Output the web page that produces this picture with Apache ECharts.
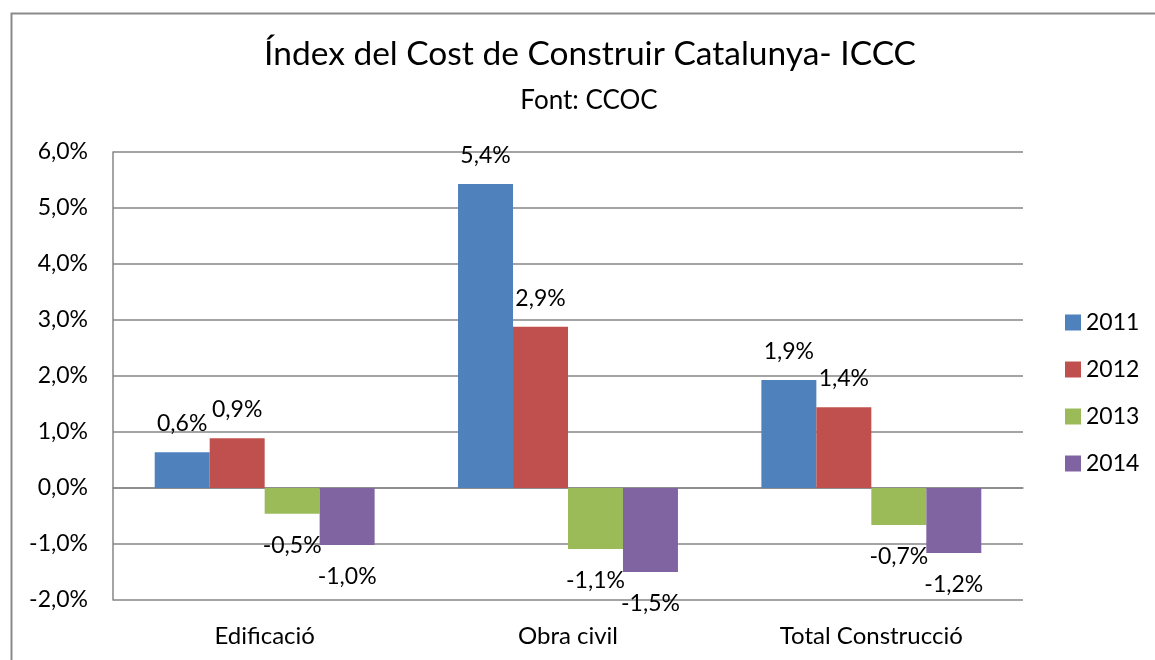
<!DOCTYPE html>
<html>
<head>
<meta charset="utf-8">
<script src="https://cdn.jsdelivr.net/npm/echarts@6/dist/echarts.min.js"></script>
<style>
html,body{margin:0;padding:0;background:#fff;}
#chart{width:1155px;height:660px;}
</style>
</head>
<body>
<div id="chart"></div>
<script>
var titleText = 'Índex del Cost de Construir Catalunya- ICCC';
var subtitleText = 'Font: CCOC';
var categories = ['Edificació', 'Obra civil', 'Total Construcció'];
var seriesNames = ['2011', '2012', '2013', '2014'];
var values2011 = [0.64, 5.43, 1.93];
var values2012 = [0.89, 2.88, 1.44];
var values2013 = [-0.46, -1.09, -0.66];
var values2014 = [-1.02, -1.50, -1.16];
var colors = ['#4F81BD', '#C0504D', '#9BBB59', '#8064A2'];
var yMin = -2, yMax = 6, yInterval = 1;

var FONT = 'Lato';
function fmt(v){ return v.toFixed(1).replace('.', ',') + '%'; }

var allValues = [values2011, values2012, values2013, values2014];
var series = allValues.map(function(vals, i){
  return {
    name: seriesNames[i],
    type: 'bar',
    xAxisIndex: 0,
    barGap: '0%',
    barCategoryGap: '27.5%',
    itemStyle: { color: colors[i] },
    data: vals.map(function(v){
      return {
        value: v,
        label: {
          show: true,
          position: v >= 0 ? 'top' : 'bottom',
          distance: v >= 0 ? 17 : 20,
          formatter: function(p){ return fmt(p.value); },
          color: '#000',
          fontSize: 23,
          fontFamily: FONT
        }
      };
    })
  };
});

var chart = echarts.init(document.getElementById('chart'), null, {renderer: 'canvas'});
chart.setOption({
  animation: false,
  backgroundColor: '#fff',
  color: colors,
  graphic: [{
    type: 'rect',
    shape: { x: 11.5, y: 13.5, width: 1200, height: 700 },
    style: { fill: null, stroke: '#8a8a8a', lineWidth: 2 },
    silent: true, z: -1
  }],
  title: [{
    text: titleText,
    left: 590, top: 37, textAlign: 'center', padding: 0,
    textStyle: { fontFamily: FONT, fontSize: 33.5, fontWeight: 'normal', color: '#000' }
  }, {
    text: subtitleText,
    left: 589, top: 88, textAlign: 'center', padding: 0,
    textStyle: { fontFamily: FONT, fontSize: 26, fontWeight: 'normal', color: '#000' }
  }],
  legend: {
    orient: 'vertical',
    left: 1065, top: 311, padding: 0,
    itemWidth: 16, itemHeight: 16, itemGap: 24,
    icon: 'rect',
    textStyle: { fontFamily: FONT, fontSize: 23, color: '#000' },
    data: seriesNames
  },
  grid: { left: 113, top: 152, width: 910, height: 448, containLabel: false },
  xAxis: [{
    type: 'category',
    data: categories,
    axisLine: { onZero: true, lineStyle: { color: '#868686', width: 1.5 } },
    axisTick: { show: false },
    axisLabel: { show: false },
    splitLine: { show: false }
  }, {
    type: 'category',
    data: categories,
    position: 'bottom',
    axisLine: { show: false, onZero: false },
    axisTick: { show: false },
    axisLabel: { show: true, margin: 24, fontFamily: FONT, fontSize: 24, color: '#000' }
  }],
  yAxis: {
    type: 'value',
    min: yMin, max: yMax, interval: yInterval,
    axisLine: { show: true, lineStyle: { color: '#868686', width: 1.5 } },
    axisTick: { show: false },
    axisLabel: { margin: 25, fontFamily: FONT, fontSize: 23, color: '#000',
      formatter: function(v){ return fmt(v); } },
    splitLine: { show: true, lineStyle: { color: '#868686', width: 1.5 } }
  },
  series: series
});
</script>
</body>
</html>
